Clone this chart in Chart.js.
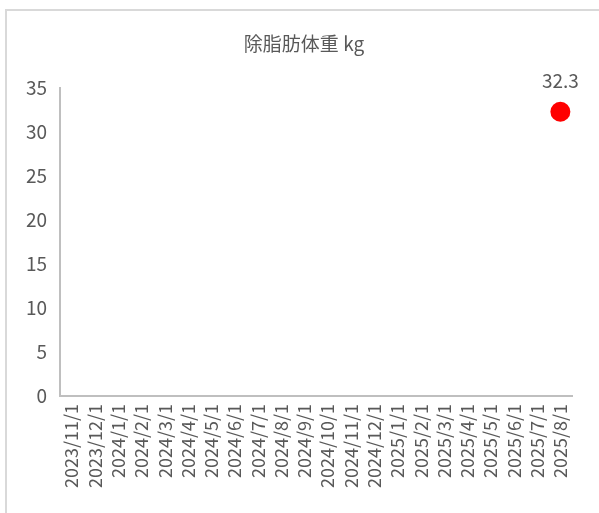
<!DOCTYPE html>
<html>
<head>
<meta charset="utf-8">
<script src="https://cdn.jsdelivr.net/npm/chart.js@4"></script>
<style>
  html, body { margin: 0; padding: 0; background: #fff; }
  #wrap { position: relative; width: 599px; height: 513px; overflow: hidden; }
  #frame { position: absolute; left: 5px; top: 9px; width: 640px; height: 560px; border: 2px solid #d9d9d9; box-sizing: border-box; }
  canvas { position: absolute; left: 0; top: 0; }
</style>
</head>
<body>
<div id="wrap">
  <div id="frame"></div>
  <canvas id="chart" width="599" height="513"></canvas>
</div>
<script>
// chart data
const TITLE = '除脂肪体重 kg';
const dates = [
  '2023/11/1', '2023/12/1', '2024/1/1', '2024/2/1', '2024/3/1', '2024/4/1',
  '2024/5/1', '2024/6/1', '2024/7/1', '2024/8/1', '2024/9/1', '2024/10/1',
  '2024/11/1', '2024/12/1', '2025/1/1', '2025/2/1', '2025/3/1', '2025/4/1',
  '2025/5/1', '2025/6/1', '2025/7/1', '2025/8/1'
];
const leanMass = [
  null, null, null, null, null, null, null, null, null, null, null,
  null, null, null, null, null, null, null, null, null, null, 32.3
];
const yTicks = { min: 0, max: 35, step: 5 };

const FONT = '"Noto Sans CJK JP", "Noto Sans", sans-serif';
const TEXT = '#595959';
const AXIS = '#bfbfbf';

// title centred on the outer frame rather than the canvas
const frameTitle = {
  id: 'frameTitle',
  afterDraw(chart) {
    const ctx = chart.ctx;
    ctx.save();
    ctx.font = '19px ' + FONT;
    ctx.fillStyle = TEXT;
    ctx.textAlign = 'center';
    ctx.textBaseline = 'middle';
    ctx.fillText(TITLE, 304, 44);
    ctx.restore();
  }
};

// draws the value above each point
const valueLabels = {
  id: 'valueLabels',
  afterDatasetsDraw(chart) {
    const ctx = chart.ctx;
    const meta = chart.getDatasetMeta(0);
    ctx.save();
    ctx.font = '19px ' + FONT;
    ctx.fillStyle = TEXT;
    ctx.textAlign = 'center';
    ctx.textBaseline = 'middle';
    meta.data.forEach((pt, i) => {
      const v = leanMass[i];
      if (v === null) return;
      ctx.fillText(v.toFixed(1), pt.x, pt.y - 31);
    });
    ctx.restore();
  }
};

new Chart(document.getElementById('chart'), {
  type: 'line',
  data: {
    labels: dates,
    datasets: [{
      data: leanMass,
      showLine: false,
      pointRadius: 10,
      pointHoverRadius: 10,
      pointBackgroundColor: '#ff0000',
      pointBorderWidth: 0
    }]
  },
  options: {
    responsive: false,
    animation: false,
    events: [],
    layout: { padding: { left: 0, right: 27, top: 88, bottom: 0 } },
    plugins: {
      legend: { display: false },
      tooltip: { enabled: false },
      title: { display: false }
    },
    scales: {
      x: {
        offset: true,
        grid: { display: false, drawTicks: false },
        border: { color: AXIS, width: 2 },
        ticks: {
          color: TEXT,
          font: { family: FONT, size: 18 },
          minRotation: 90,
          maxRotation: 90,
          autoSkip: false,
          padding: 8
        },
        afterFit(scale) { scale.height = 117; }
      },
      y: {
        min: yTicks.min,
        max: yTicks.max,
        grid: { display: false, drawTicks: false },
        border: { color: AXIS, width: 2 },
        ticks: {
          stepSize: yTicks.step,
          color: TEXT,
          font: { family: FONT, size: 19 },
          padding: 13
        },
        afterFit(scale) { scale.width = 60; }
      }
    }
  },
  plugins: [frameTitle, valueLabels]
});
</script>
</body>
</html>
